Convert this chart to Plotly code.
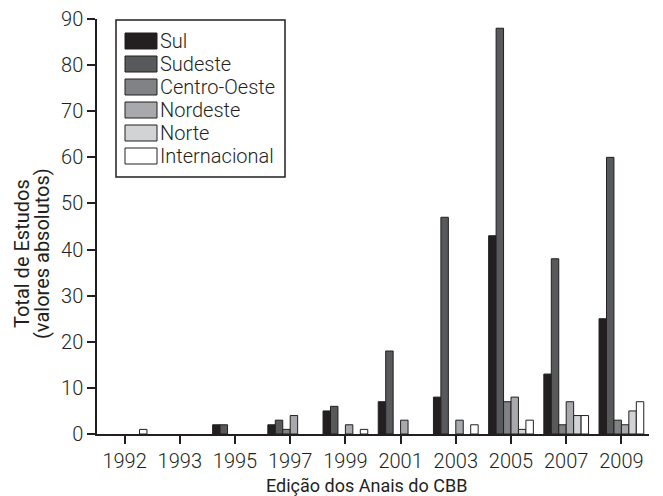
import plotly.graph_objects as go

years = ["1992", "1993", "1995", "1997", "1999", "2001", "2003", "2005", "2007", "2009"]
sul = [0, 0, 2, 2, 5, 7, 8, 43, 13, 25]
sudeste = [0, 0, 2, 3, 6, 18, 47, 88, 38, 60]
centro_oeste = [0, 0, 0, 1, 0, 0, 0, 7, 2, 3]
nordeste = [0, 0, 0, 4, 2, 3, 3, 8, 7, 2]
norte = [0, 0, 0, 0, 0, 0, 0, 1, 4, 5]
internacional = [1, 0, 0, 0, 1, 0, 2, 3, 4, 7]

series_names = ["Sul", "Sudeste", "Centro-Oeste", "Nordeste", "Norte", "Internacional"]
series_values = [sul, sudeste, centro_oeste, nordeste, norte, internacional]
series_colors = ["#231f20", "#58595b", "#808285", "#a7a9ac", "#d1d3d4", "#ffffff"]

font_family = "Roboto, Open Sans, sans-serif"
ink = "#231f20"

W, H = 663, 496
ML, MR, MT, MB = 89, 22, 11, 70
PW, PH = W - ML - MR, H - MT - MB
OFF = 8  # page body offset in the screenshot


def px(sx):
    return (sx - OFF - ML) / PW


def py(sy):
    return (MT + PH - (sy - OFF)) / PH


fig = go.Figure()
for name, vals, color in zip(series_names, series_values, series_colors):
    fig.add_trace(go.Bar(
        x=years, y=[v if v > 0 else None for v in vals], name=name,
        marker=dict(color=color, line=dict(color=ink, width=1)),
        showlegend=False,
    ))

# legend box drawn manually
fig.add_shape(type="rect", xref="paper", yref="paper",
              x0=px(116), x1=px(285), y0=py(177), y1=py(20),
              line=dict(color=ink, width=1.5), fillcolor="white", layer="above")
for i, (name, color) in enumerate(zip(series_names, series_colors)):
    top = 33 + 23 * i
    fig.add_shape(type="rect", xref="paper", yref="paper",
                  x0=px(125), x1=px(157), y0=py(top + 16), y1=py(top),
                  line=dict(color=ink, width=1), fillcolor=color, layer="above")
    fig.add_annotation(text=name, xref="paper", yref="paper",
                       x=px(158), y=py(top + 8), xanchor="left", yanchor="middle",
                       showarrow=False, font=dict(size=20, color=ink, weight=300))

# axis titles
fig.add_annotation(text="Total de Estudos", textangle=-90,
                   xref="paper", yref="paper", x=px(22), y=py(254),
                   xanchor="center", yanchor="middle", showarrow=False,
                   font=dict(size=20, color=ink))
fig.add_annotation(text="(valores absolutos)", textangle=-90,
                   xref="paper", yref="paper", x=px(42), y=py(254),
                   xanchor="center", yanchor="middle", showarrow=False,
                   font=dict(size=20, color=ink))
fig.add_annotation(text="Edição dos Anais do CBB",
                   xref="paper", yref="paper", x=px(366), y=py(485),
                   xanchor="center", yanchor="middle", showarrow=False,
                   font=dict(size=18, color=ink))

fig.update_layout(
    width=W, height=H,
    margin=dict(l=ML, r=MR, t=MT, b=MB),
    paper_bgcolor="white", plot_bgcolor="white",
    barmode="group", bargap=0.19, bargroupgap=0,
    font=dict(family=font_family, color=ink, size=18),
    showlegend=False,
    xaxis=dict(
        type="category", showline=True, linecolor=ink, linewidth=1.5,
        ticks="outside", ticklen=8, tickcolor=ink, tickwidth=1.5,
        tickfont=dict(size=20, color=ink, weight=300), showgrid=False,
        automargin=False, ticklabeloverflow="allow",
    ),
    yaxis=dict(
        range=[0, 90], dtick=10, showline=True, linecolor=ink, linewidth=1.5,
        ticks="outside", ticklen=8, tickcolor=ink, tickwidth=1.5,
        tickfont=dict(size=20, color=ink, weight=300), showgrid=False, zeroline=False,
        automargin=False, ticklabeloverflow="allow",
    ),
)

fig.write_html("out.html")
